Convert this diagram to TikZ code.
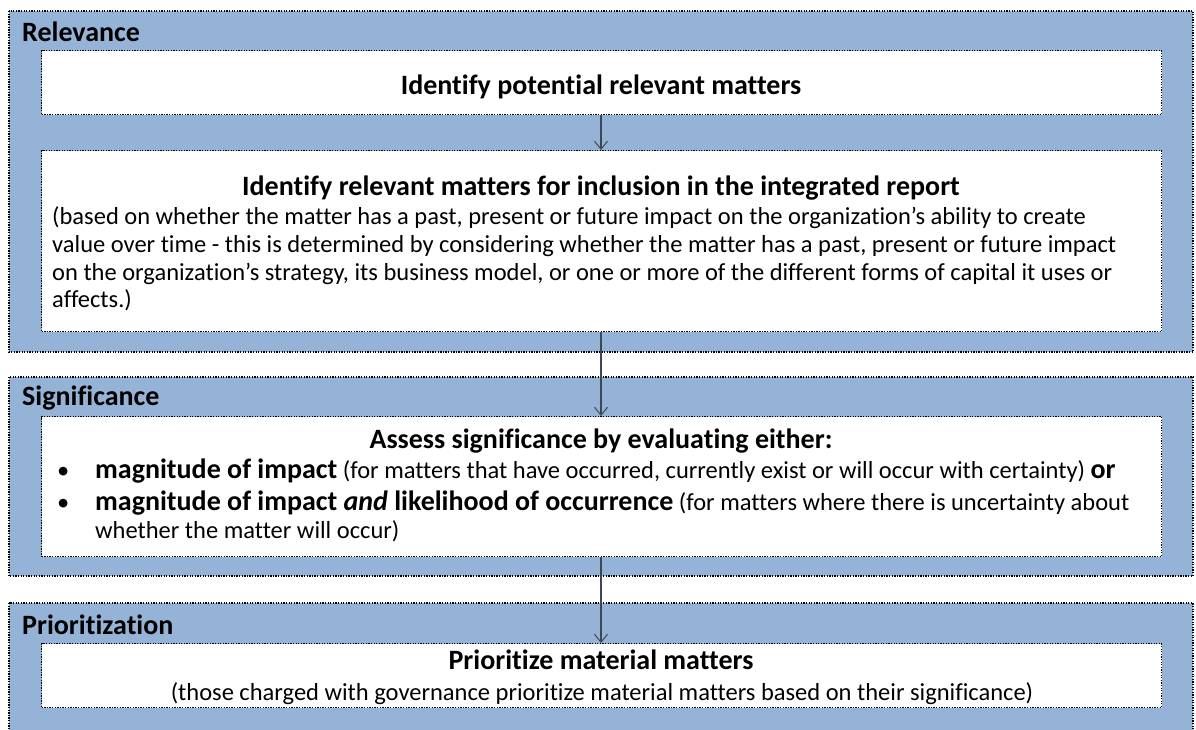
\documentclass[tikz,border=0pt]{standalone}
\usepackage{fontspec}
\setmainfont{Carlito}[Ligatures=NoCommon]
\usetikzlibrary{arrows.meta}
\definecolor{bandblue}{RGB}{149,179,215}
\definecolor{arrowgray}{RGB}{64,70,80}
\newcommand{\bodysize}{\fontsize{24.5}{28}\selectfont}
\newcommand{\headsize}{\fontsize{28}{33}\selectfont}
\tikzset{
  band/.style={fill=bandblue, draw=black, line width=1.3pt, dash pattern=on 1.3pt off 1.3pt},
  whitebox/.style={fill=white, draw=black, line width=1.3pt, dash pattern=on 1.3pt off 1.3pt},
  flowarrow/.style={draw=arrowgray, line width=1.2pt, -{Straight Barb[length=8pt,width=13pt,line width=1pt]}},
  bighead/.style={font=\headsize\bfseries, inner sep=0pt},
  bodytext/.style={font=\bodysize, inner sep=0pt},
}
\begin{document}
\begin{tikzpicture}[x=1pt,y=-1pt]
\useasboundingbox (0,0) rectangle (1196,729);
\begin{scope}
\clip (0,0) rectangle (1196,729);
% bands
\path[band] (9,11) rectangle (1193,352);
\path[band] (9,377) rectangle (1193,576);
\path[band] (9,603) rectangle (1193,745);
\end{scope}
% inner boxes
\node[whitebox, minimum width=1120pt, minimum height=64pt, anchor=north west, inner sep=0pt] (b1) at (41,50) {};
\node[whitebox, minimum width=1120pt, minimum height=181pt, anchor=north west, inner sep=0pt] (b2) at (41,150) {};
\node[whitebox, minimum width=1120pt, minimum height=140pt, anchor=north west, inner sep=0pt] (b3) at (41,416) {};
\node[whitebox, minimum width=1120pt, minimum height=64pt, anchor=north west, inner sep=0pt] (b4) at (41,643) {};
% section titles
\node[bighead, anchor=base west] (t1) at (22,41) {Relevance};
\node[bighead, anchor=base west] (t2) at (22,405) {Significance};
\node[bighead, anchor=base west] (t3) at (22,634) {Prioritization};
% box 1
\node[bighead, anchor=base] (h1) at (601,94) {Identify potential relevant matters};
% box 2
\node[bighead, anchor=base] (h2) at (601,195) {Identify relevant matters for inclusion in the integrated report};
\node[bodytext, anchor=base west] (l1) at (52,224) {(based on whether the matter has a past, present or future impact on the organization’s ability to create};
\node[bodytext, anchor=base west] (l2) at (52,252) {value over time - this is determined by considering whether the matter has a past, present or future impact};
\node[bodytext, anchor=base west] (l3) at (52,280) {on the organization’s strategy, its business model, or one or more of the different forms of capital it uses or};
\node[bodytext, anchor=base west] (l4) at (52,307) {affects.)};
% box 3
\node[bighead, anchor=base] (h3) at (601,448) {Assess significance by evaluating either:};
\node[bodytext, anchor=base west] (bu1) at (57,478) {•};
\node[bodytext, anchor=base west] (bu2) at (57,510) {•};
\node[bodytext, anchor=base west] (s1) at (95,478) {\headsize\bfseries magnitude of impact\bodysize\mdseries{} (for matters that have occurred, currently exist or will occur with certainty) \headsize\bfseries or};
\node[bodytext, anchor=base west] (s2) at (95,510) {\headsize\bfseries magnitude of impact \textit{and} likelihood of occurrence\bodysize\mdseries{} (for matters where there is uncertainty about};
\node[bodytext, anchor=base west] (s3) at (95,538) {whether the matter will occur)};
% box 4
\node[bighead, anchor=base] (h4) at (601,669) {Prioritize material matters};
\node[bodytext, anchor=base] (p1) at (602,700) {(those charged with governance prioritize material matters based on their significance)};
% arrows
\draw[flowarrow] (b1.south -| 601,0) -- (b2.north -| 601,0);
\draw[flowarrow] (b2.south -| 601,0) -- (b3.north -| 601,0);
\draw[flowarrow] (b3.south -| 601,0) -- (b4.north -| 601,0);
\end{tikzpicture}
\end{document}
